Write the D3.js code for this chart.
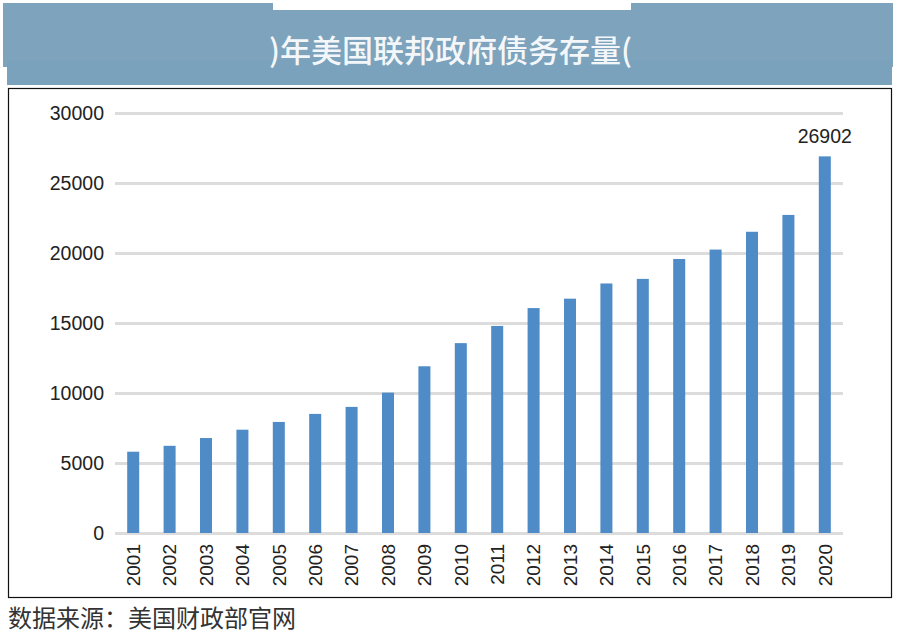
<!DOCTYPE html>
<html><head><meta charset="utf-8">
<script src="https://cdn.jsdelivr.net/npm/d3@7/dist/d3.min.js"></script>
<style>
html,body{margin:0;padding:0;background:#fff;}
svg{display:block;}
</style></head>
<body>
<svg id="c" width="903" height="640"></svg>
<script>
const years = ["2001","2002","2003","2004","2005","2006","2007","2008","2009","2010","2011","2012","2013","2014","2015","2016","2017","2018","2019","2020"];
const debt = [5807,6228,6783,7379,7933,8507,9008,10025,11910,13562,14790,16066,16738,17824,18151,19573,20245,21516,22719,26902];
const yTicks = [0,5000,10000,15000,20000,25000,30000];
const titleText = ")年美国联邦政府债务存量(";
const sourceText = "数据来源：美国财政部官网";
const labelValue = "26902";

const svg = d3.select("#c");
const latin = "'Liberation Sans', Arial, Helvetica, sans-serif";
const cjk = "'Noto Sans CJK SC', 'Noto Sans', sans-serif";

// banner
const bannerColor = "#7ea3bd";
svg.append("rect").attr("x",3).attr("y",3).attr("width",890).attr("height",64).attr("fill",bannerColor);
svg.append("rect").attr("x",7).attr("y",60).attr("width",885).attr("height",25).attr("fill","#7ba2bc");
svg.append("rect").attr("x",273).attr("y",0).attr("width",358).attr("height",10).attr("fill","#fff");
svg.append("text").attr("x",269).attr("y",62).attr("fill","#f4f7fa")
  .attr("font-family",cjk).attr("font-size",31).attr("font-weight",500)
  .text(titleText);

// chart frame
svg.append("rect").attr("x",8.5).attr("y",88.5).attr("width",883).attr("height",509)
  .attr("fill","#fff").attr("stroke","#111").attr("stroke-width",1.2);

const x = d3.scaleBand().domain(years).range([115,843]).paddingInner(0.67).paddingOuter(0.335);
const y = d3.scaleLinear().domain([0,30000]).range([533,113]);

// grid
const yAxis = d3.axisLeft(y).tickValues(yTicks).tickSize(-(843-115)).tickPadding(11).tickFormat(d3.format("d"));
const gy = svg.append("g").attr("transform","translate(115,0)").call(yAxis);
gy.select(".domain").remove();
gy.selectAll(".tick line").attr("stroke","#dcdcdc").attr("stroke-width",3);
gy.selectAll(".tick text").attr("font-family",latin).attr("font-size",19.5).attr("fill","#222");

// bars
svg.append("g").selectAll("rect").data(debt).join("rect")
  .attr("x",(d,i)=>x(years[i]))
  .attr("width",x.bandwidth())
  .attr("y",d=>y(d))
  .attr("height",d=>y(0)-y(d))
  .attr("fill","#4f8cc7");

// x axis labels
const xAxis = d3.axisBottom(x).tickSize(0).tickPadding(0);
const gx = svg.append("g").attr("transform","translate(0,533)").call(xAxis);
gx.select(".domain").remove();
gx.selectAll(".tick text")
  .attr("font-family",latin).attr("font-size",19).attr("fill","#222")
  .attr("transform","rotate(-90)")
  .attr("text-anchor","end").attr("x",-11).attr("y",0).attr("dy","0.36em");

// value label
svg.append("text").attr("x",x("2020")+x.bandwidth()/2).attr("y",y(debt[debt.length-1])-13)
  .attr("text-anchor","middle").attr("font-family",latin).attr("font-size",19.5).attr("fill","#222")
  .text(labelValue);

// source
svg.append("text").attr("x",8).attr("y",627).attr("font-family",cjk).attr("font-size",24).attr("fill","#333")
  .text(sourceText);
</script>
</body></html>
